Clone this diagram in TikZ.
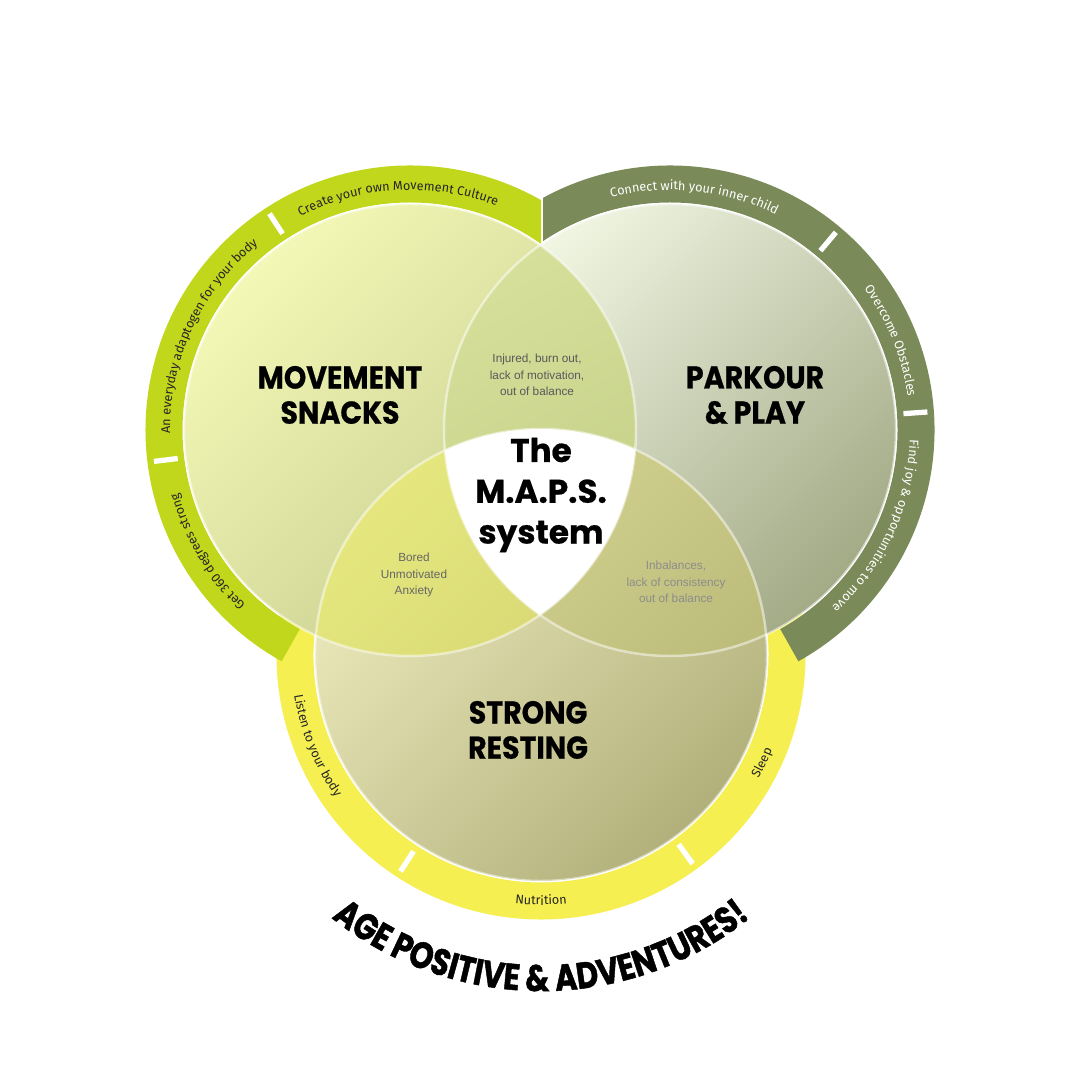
\documentclass[tikz,border=0pt]{standalone}
\usepackage{fontspec}
\setmainfont{Liberation Sans}
\newfontfamily\ringfont{Fira Sans}
\newfontfamily\headfont{Poppins}[FakeBold=0.6]
\newfontfamily\titlefont{Poppins}[FakeStretch=0.9, FakeBold=0.6]
\newfontfamily\arcfont{Poppins}[FakeStretch=0.82, FakeBold=1.2]
\usetikzlibrary{decorations.text}

\definecolor{snackring}{HTML}{C1D71C}
\definecolor{playring}{HTML}{7A8A58}
\definecolor{restring}{HTML}{F5EF52}
\definecolor{snackhi}{HTML}{F3F8B6}
\definecolor{snacklo}{HTML}{C4CA8C}
\definecolor{playhi}{HTML}{F2F7E4}
\definecolor{playlo}{HTML}{A3AA86}
\definecolor{resthi}{HTML}{EFEDC0}
\definecolor{restlo}{HTML}{B2B07A}
\definecolor{tophi}{HTML}{D6E09A}
\definecolor{toplo}{HTML}{BBC67E}
\definecolor{lefthi}{HTML}{E5E77E}
\definecolor{leftlo}{HTML}{CBCB6B}
\definecolor{righthi}{HTML}{DAD996}
\definecolor{rightlo}{HTML}{B5B574}

\tikzset{
  ringband/.style={line width=0.37cm},
  ringtick/.style={white, line width=1.5pt},
  ringlabel/.style={decorate, decoration={text along path, text align=center, text color=#1}},
  lenslabel/.style={align=center, font=\fontsize{3.35}{4.7}\selectfont, text=#1},
  bigtitle/.style={align=center, font=\titlefont\bfseries\fontsize{9}{10}\selectfont},
  circedge/.style={draw=white, line width=0.7pt, opacity=0.5},
}

\begin{document}
\begin{tikzpicture}[x=0.01cm, y=0.01cm]
    \useasboundingbox (0,0) rectangle (1080,1080);
    \fill[white] (0,0) rectangle (1080,1080);

    % Centres
    \coordinate (L) at (410,650);
    \coordinate (R) at (670,650);
    \coordinate (B) at (541,425);

    % Outer bands
    \draw[ringband, restring] ([shift={(170:246)}]B) arc[start angle=170, end angle=370, radius=246];
    \begin{scope}
        \clip (0,0) rectangle (541,1080);
        \draw[ringband, snackring] ([shift={(45:246)}]L) arc[start angle=45, end angle=241, radius=246];
    \end{scope}
    \begin{scope}
        \clip (543,0) rectangle (1080,1080);
        \draw[ringband, playring] ([shift={(135:246)}]R) arc[start angle=135, end angle=-61, radius=246];
    \end{scope}
    \foreach \a in {123,187} \draw[ringtick] (L) ++(\a:234) -- ++(\a:24);
    \foreach \a in {50,4} \draw[ringtick] (R) ++(\a:234) -- ++(\a:24);
    \foreach \a in {237,306} \draw[ringtick] (B) ++(\a:234) -- ++(\a:24);

    % Circles
    \shade[top color=resthi, bottom color=restlo, shading angle=45] (B) circle[radius=226];
    \shade[top color=snackhi, bottom color=snacklo, shading angle=45] (L) circle[radius=226];
    \shade[top color=playhi, bottom color=playlo, shading angle=45] (R) circle[radius=226];

    % Overlaps
    \begin{scope}
        \clip (L) circle[radius=226];
        \shade[top color=tophi, bottom color=toplo, shading angle=30] (R) circle[radius=226];
        \shade[top color=lefthi, bottom color=leftlo, shading angle=45] (B) circle[radius=226];
    \end{scope}
    \begin{scope}
        \clip (R) circle[radius=226];
        \shade[top color=righthi, bottom color=rightlo, shading angle=45] (B) circle[radius=226];
        \clip (L) circle[radius=226];
        \fill[white] (B) circle[radius=226];
    \end{scope}
    \foreach \c in {L,R,B} \draw[circedge] (\c) circle[radius=226];

    % Band texts
    \path[ringlabel=black!85, decoration={text={|\ringfont\fontsize{3.6}{4}\selectfont|Create your own Movement Culture}}]
        ([shift={(143:240)}]L) arc[start angle=143, end angle=43, radius=240];
    \path[ringlabel=black!85, decoration={text={|\ringfont\fontsize{3.6}{4}\selectfont|An everyday adaptogen for your body}}]
        ([shift={(205:240)}]L) arc[start angle=205, end angle=105, radius=240];
    \path[ringlabel=black!85, decoration={text={|\ringfont\fontsize{3.6}{4}\selectfont|Get 360 degrees strong}}]
        ([shift={(261:240)}]L) arc[start angle=261, end angle=161, radius=240];
    \path[ringlabel=white, decoration={text={|\ringfont\fontsize{3.6}{4}\selectfont|Connect with your inner child}}]
        ([shift={(134:240)}]R) arc[start angle=134, end angle=34, radius=240];
    \path[ringlabel=white, decoration={text={|\ringfont\fontsize{3.6}{4}\selectfont|Overcome Obstacles}}]
        ([shift={(72:240)}]R) arc[start angle=72, end angle=-28, radius=240];
    \path[ringlabel=white, decoration={text={|\ringfont\fontsize{3.6}{4}\selectfont|Find joy {\&} opportunities to move}}]
        ([shift={(25:240)}]R) arc[start angle=25, end angle=-75, radius=240];
    \path[ringlabel=black!85, decoration={text={|\ringfont\fontsize{3.6}{4}\selectfont|Listen to your body}}]
        ([shift={(152:250)}]B) arc[start angle=152, end angle=252, radius=250];
    \path[ringlabel=black!85, decoration={text={|\ringfont\fontsize{3.6}{4}\selectfont|Nutrition}}]
        ([shift={(220:250)}]B) arc[start angle=220, end angle=320, radius=250];
    \path[ringlabel=black!85, decoration={text={|\ringfont\fontsize{3.6}{4}\selectfont|Sleep}}]
        ([shift={(284:250)}]B) arc[start angle=284, end angle=384, radius=250];

    % Titles
    \node[bigtitle] (snacks) at (340,685) {MOVEMENT\\SNACKS};
    \node[bigtitle] (play) at (755,685) {PARKOUR\\\& PLAY};
    \node[bigtitle] (resting) at (528,350) {STRONG\\RESTING};
    \node[align=center, font=\headfont\bfseries\fontsize{9.3}{11.6}\selectfont] (maps) at (541,585) {The\\M.A.P.S.\\system};

    % Overlap texts
    \node[lenslabel=black!65] (injured) at (537,705) {Injured, burn out,\\lack of motivation,\\out of balance};
    \node[lenslabel=black!60] (bored) at (414,505) {Bored\\Unmotivated\\Anxiety};
    \node[lenslabel=black!45] (inbal) at (676,498) {Inbalances,\\lack of consistency\\out of balance};

    % Motto
    \path[ringlabel=black, decoration={text={|\arcfont\bfseries\fontsize{10.5}{12}\selectfont|AGE POSITIVE {\&} ADVENTURES!}}]
        ([shift={(210:336)}]B) arc[start angle=210, end angle=330, radius=336];
\end{tikzpicture}
\end{document}
